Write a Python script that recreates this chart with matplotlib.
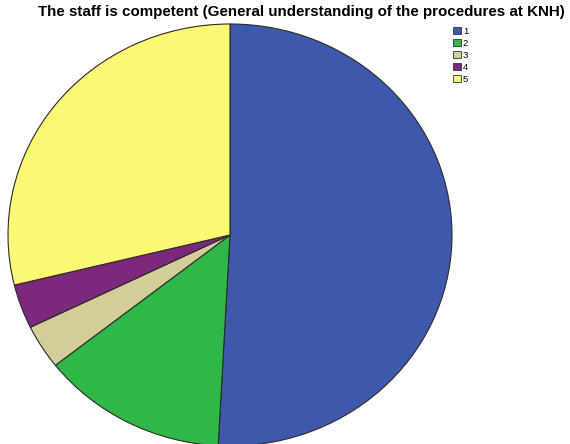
import matplotlib
import matplotlib.pyplot as plt
from matplotlib.patches import Patch

matplotlib.use('Agg')

plt.rcParams['font.family'] = ['Liberation Sans', 'DejaVu Sans']

# response counts per rating
categories = ['1', '2', '3', '4', '5']
counts = [30, 8, 2, 2, 17]
colors = ['#3E58AC', '#2EB848', '#D3CE97', '#7C287D', '#FBF873']
title = 'The staff is competent (General understanding of the procedures at KNH)'

W, H = 570, 444
fig = plt.figure(figsize=(W / 100, H / 100), dpi=100)

# pie area in pixel coords: left, top, width, height
px_l, px_t, px_w, px_h = 8, 24, 444, 422
ax = fig.add_axes([px_l / W, 1 - (px_t + px_h) / H, px_w / W, px_h / H])
ax.pie(counts, colors=colors, startangle=90, counterclock=False,
       wedgeprops=dict(edgecolor='#2a2a2a', linewidth=0.8))
ax.set_aspect('auto')
ax.set_xlim(-1, 1)
ax.set_ylim(-1, 1)
ax.axis('off')

fig.text(301.5 / W, 1 - 12 / H, title, ha='center', va='center',
         fontsize=10.9, fontweight='bold')

handles = [Patch(facecolor=c, edgecolor='#333333', linewidth=0.6) for c in colors]
fig.legend(handles, categories, loc='upper left',
           bbox_to_anchor=(453 / W, 1 - 27 / H), frameon=False,
           fontsize=6.8, handlelength=0.85, handleheight=0.75,
           handletextpad=0.2, labelspacing=0.32, borderpad=0, borderaxespad=0)

plt.savefig('out.png', dpi=100)
plt.close()
